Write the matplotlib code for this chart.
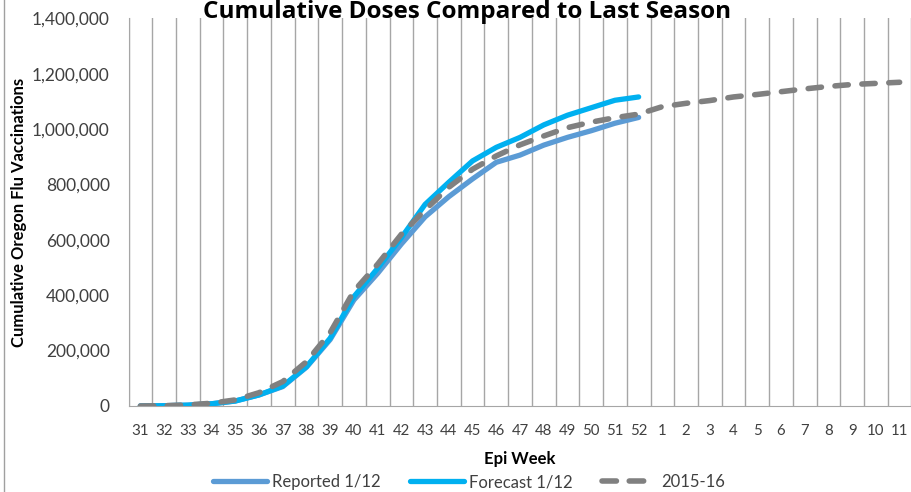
import matplotlib
matplotlib.use("Agg")
import matplotlib.pyplot as plt
from matplotlib.lines import Line2D
from matplotlib.ticker import FuncFormatter, MultipleLocator

plt.rcParams['font.family'] = ['Lato', 'DejaVu Sans']

# epi weeks shown on the x axis
week_labels = [str(w) for w in range(31, 53)] + [str(w) for w in range(1, 12)]

# cumulative doses
reported = [0, 1000, 3000, 8000, 18000, 40000, 70000, 140000, 240000, 383000,
            479000, 585000, 683000, 756000, 820000, 880000, 906000, 942000,
            970000, 994000, 1021000, 1042000]
forecast = [0, 1000, 3000, 8000, 18000, 40000, 72000, 142000, 245000, 395000,
            497000, 608000, 728000, 808000, 885000, 934000, 970000, 1015000,
            1050000, 1077000, 1104000, 1116000]
season_2015 = [0, 1000, 4000, 10000, 22000, 48000, 88000, 160000, 265000, 415000,
               512000, 620000, 708000, 790000, 855000, 903000, 943000, 975000,
               1005000, 1025000, 1041000, 1054000, 1081000, 1093000, 1103000,
               1116000, 1125000, 1135000, 1145000, 1154000, 1161000, 1165000,
               1169000]

grid_col = "#A6A6A6"
txt_col = "#404040"

fig = plt.figure(figsize=(9.12, 4.92), dpi=100)
ax = fig.add_axes([128.5 / 912, 86 / 492, 783 / 912, 387.7 / 492])

x_rep = list(range(len(reported)))
x_fc = list(range(len(forecast)))
x_old = list(range(len(season_2015)))

l1, = ax.plot(x_rep, reported, color="#5B9BD5", linewidth=3.8, solid_capstyle='round',
              label="Reported 1/12", zorder=3)
l2, = ax.plot(x_fc, forecast, color="#00B0F0", linewidth=3.8, solid_capstyle='round',
              label="Forecast 1/12", zorder=4)
ax.plot(x_old, season_2015, color="#808080", linewidth=4, linestyle=(0, (2.4, 2.45)),
        dash_capstyle='round', zorder=5)
# legend proxy so the key shows two clean dashes
l3 = Line2D([], [], color="#808080", linewidth=4, linestyle=(0, (2.6, 2.3)),
            dash_capstyle='round', label="2015-16")

ax.set_xlim(-0.5, len(week_labels) - 0.5)
ax.set_ylim(0, 1400000)
ax.set_xticks(range(len(week_labels)))
ax.set_xticklabels(week_labels)
ax.set_xticks([i - 0.5 for i in range(len(week_labels) + 1)], minor=True)
ax.yaxis.set_major_locator(MultipleLocator(200000))
ax.yaxis.set_major_formatter(FuncFormatter(lambda v, p: "{:,.0f}".format(v)))
ax.grid(which='minor', axis='x', color=grid_col, linewidth=1)
ax.tick_params(axis='both', which='both', length=0)
ax.tick_params(axis='y', labelsize=12.5, pad=13.5, labelcolor=txt_col)
ax.tick_params(axis='x', labelsize=10.8, pad=13, labelcolor=txt_col)

for s in ['top', 'right']:
    ax.spines[s].set_visible(False)
ax.spines['left'].set_color(grid_col)
ax.spines['bottom'].set_color(grid_col)

ax.set_ylabel("Cumulative Oregon Flu Vaccinations", fontsize=12, fontweight='bold')
ax.yaxis.set_label_coords(-101.5 / 783, 0.5)
ax.set_xlabel("Epi Week", fontsize=12, fontweight='bold')
ax.xaxis.set_label_coords(0.5, -45 / 387.7)

fig.text(467 / 912, 1 - 18.5 / 492, "Cumulative Doses Compared to Last Season",
         ha='center', va='baseline', fontsize=17.5, fontweight='bold',
         family=['Open Sans', 'DejaVu Sans'])

fig.legend(handles=[l1, l2, l3], loc='center', bbox_to_anchor=(469 / 912, 1 - 482 / 492),
           ncol=3, frameon=False, fontsize=12, handlelength=3.2, handletextpad=0.3,
           columnspacing=1.8, labelcolor=txt_col)

# left border of the chart area
fig.add_artist(Line2D([4.5 / 912, 4.5 / 912], [0, 1], color="#A0A0A0", linewidth=1))

fig.savefig("out.png", dpi=100)
